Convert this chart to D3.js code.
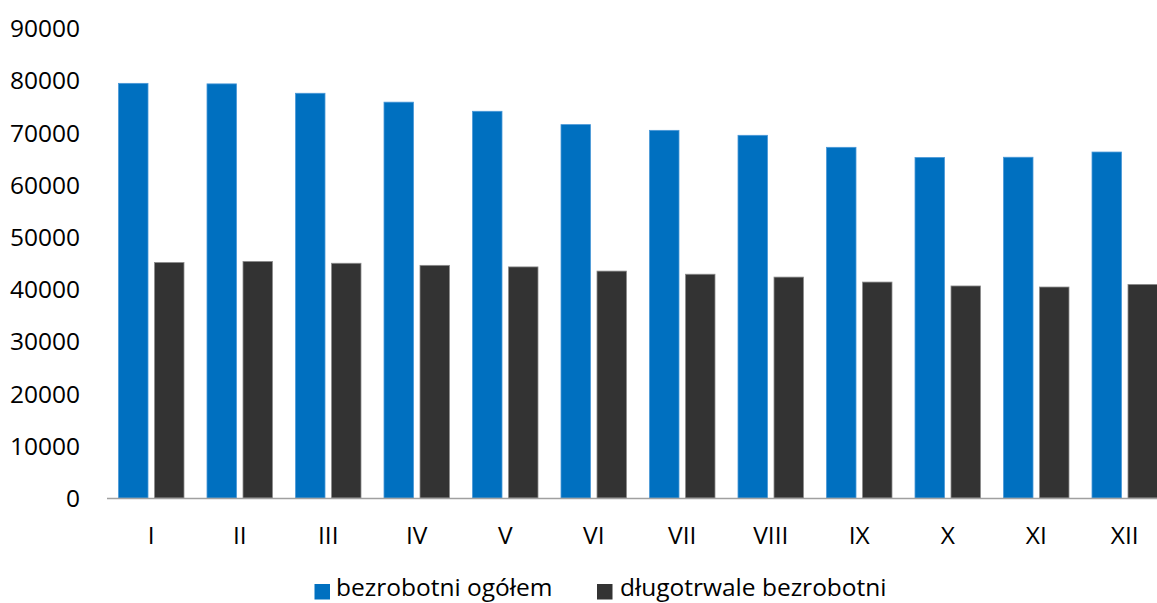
<!DOCTYPE html>
<html>
<head>
<meta charset="utf-8">
<script src="https://cdn.jsdelivr.net/npm/d3@7"></script>
<style>
  html, body { margin: 0; padding: 0; background: #fff; overflow: hidden; }
  svg { display: block; }
  text { font-family: "Open Sans", "Noto Sans", sans-serif; fill: #000; }
</style>
</head>
<body>
<svg id="chart" width="1157" height="603"></svg>
<script>
const months = ["I","II","III","IV","V","VI","VII","VIII","IX","X","XI","XII"];
const seriesNames = ["bezrobotni ogółem", "długotrwale bezrobotni"];
const totalUnemployed = [79400, 79300, 77500, 75800, 74050, 71500, 70400, 69450, 67150, 65200, 65250, 66250];
const longTermUnemployed = [45100, 45300, 44950, 44550, 44250, 43450, 42850, 42300, 41350, 40600, 40400, 40900];
const yTicks = [0, 10000, 20000, 30000, 40000, 50000, 60000, 70000, 80000, 90000];

const colors = ["#0070C0", "#333333"];
const strokes = ["#4a98d8", "#8c8c8c"];

const svg = d3.select("#chart");
const x0 = 107, plotRight = 1169, yBase = 498, yTop = 28;

const x = d3.scaleBand().domain(months).range([x0, plotRight]).paddingInner(0).paddingOuter(0);
const y = d3.scaleLinear().domain([0, 90000]).range([yBase, yTop]);

const data = months.map((m, i) => ({ m, vals: [totalUnemployed[i], longTermUnemployed[i]] }));

const barW = 29.5, gap = 6.5;
const g = svg.append("g");
data.forEach(d => {
  const c = x(d.m) + x.bandwidth() / 2;
  d.vals.forEach((v, k) => {
    const left = k === 0 ? c - gap / 2 - barW : c + gap / 2;
    g.append("rect")
      .attr("x", left)
      .attr("y", y(v))
      .attr("width", barW)
      .attr("height", y(0) - y(v))
      .attr("fill", colors[k])
      .attr("stroke", strokes[k])
      .attr("stroke-width", 0.8);
  });
});

// x axis line
svg.append("line")
  .attr("x1", x0).attr("x2", 1157)
  .attr("y1", yBase + 0.5).attr("y2", yBase + 0.5)
  .attr("stroke", "#a0a0a0").attr("stroke-width", 1.6);

// y axis labels
const yAxis = d3.axisLeft(y).tickValues(yTicks).tickSize(0).tickPadding(0).tickFormat(d3.format("d"));
const ya = svg.append("g").attr("transform", "translate(80,0)").call(yAxis);
ya.select(".domain").remove();
ya.selectAll("text").attr("font-size", 24.5).attr("font-family", "'Open Sans', sans-serif").attr("fill", "#000").attr("dy", "0.35em");

// x axis labels
const xAxis = d3.axisBottom(x).tickSize(0).tickPadding(0);
const xa = svg.append("g").attr("transform", `translate(0,${yBase})`).call(xAxis);
xa.select(".domain").remove();
xa.selectAll("text").attr("font-size", 24.5).attr("font-family", "'Open Sans', sans-serif").attr("fill", "#000").attr("y", 37).attr("dy", "0.35em");

// legend
const legendItems = [
  { name: seriesNames[0], color: colors[0], sx: 314.5, tx: 336 },
  { name: seriesNames[1], color: colors[1], sx: 597, tx: 620 }
];
const lg = svg.append("g");
legendItems.forEach(it => {
  lg.append("rect").attr("x", it.sx).attr("y", 584).attr("width", 15.5).attr("height", 15.5).attr("fill", it.color);
  lg.append("text").attr("x", it.tx).attr("y", 596).attr("font-size", 24.5).text(it.name);
});
</script>
</body>
</html>
